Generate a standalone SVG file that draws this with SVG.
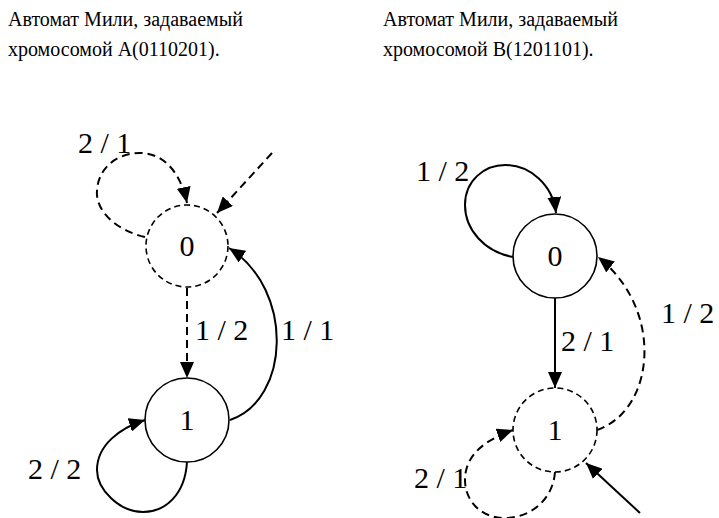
<svg xmlns="http://www.w3.org/2000/svg" width="719" height="518" viewBox="0 0 719 518">
<defs>
<marker id="a" markerUnits="userSpaceOnUse" markerWidth="16" markerHeight="14" viewBox="0 0 16 14" refX="16" refY="7" orient="auto"><path d="M0,0 L16,7 L0,14 Z" fill="#000"/></marker>
</defs>
<g id="titles" font-family="Liberation Serif" font-size="20" fill="#000">
<text x="8" y="26">Автомат Мили, задаваемый</text>
<text x="8" y="56">хромосомой A(0110201).</text>
<text x="383" y="26">Автомат Мили, задаваемый</text>
<text x="383" y="56">хромосомой B(1201101).</text>
</g>
<g id="connectors" fill="none" stroke="#000" stroke-width="2">
<path stroke-dasharray="8 5" d="M187,288 L187,378" marker-end="url(#a)"/>
<path d="M230,420 C290,400 295,290 229,248" marker-end="url(#a)"/>
<path stroke-dasharray="8 5" d="M145,237 C115,230 95,210 97,190 C99,165 120,153 140,153 C162,153 180,170 187,203" marker-end="url(#a)"/>
<path stroke-dasharray="8 5" d="M272,153 L217,213" marker-end="url(#a)"/>
<path d="M187,462 C185,495 165,512 143,512 C120,512 97,490 97,470 C97,445 120,428 145,420" marker-end="url(#a)"/>
<path d="M513,257 C485,252 465,230 465,205 C465,180 485,165 505,165 C530,165 553,185 556,213" marker-end="url(#a)"/>
<path d="M555,298 L555,388" marker-end="url(#a)"/>
<path stroke-dasharray="8 5" d="M597,430 C655,410 665,310 598,257" marker-end="url(#a)"/>
<path stroke-dasharray="8 5" d="M555,472 C553,500 530,518 505,518 C480,518 465,500 465,480 C465,455 485,440 513,430" marker-end="url(#a)"/>
<path d="M640,513 L586,463" marker-end="url(#a)"/>
<g font-family="Liberation Serif" font-size="30" fill="#000" stroke="none">
<text x="195" y="340">1 / 2</text>
<text x="281" y="340">1 / 1</text>
<text x="78" y="153">2 / 1</text>
<text x="28" y="479">2 / 2</text>
<text x="416" y="181">1 / 2</text>
<text x="561" y="351">2 / 1</text>
<text x="661" y="323">1 / 2</text>
<text x="414" y="488">2 / 1</text>
</g>
</g>
<g font-family="Liberation Serif" font-size="30" text-anchor="middle">
<g id="nodeA0"><circle cx="187" cy="246" r="41" fill="#fff" stroke="#000" stroke-width="1.6" stroke-dasharray="6 4"/><text x="187" y="256">0</text></g>
<g id="nodeA1"><circle cx="187" cy="420" r="42" fill="#fff" stroke="#000" stroke-width="1.6"/><text x="187" y="430">1</text></g>
<g id="nodeB0"><circle cx="555" cy="256" r="42" fill="#fff" stroke="#000" stroke-width="1.6"/><text x="555" y="266">0</text></g>
<g id="nodeB1"><circle cx="555" cy="430" r="42" fill="#fff" stroke="#000" stroke-width="1.6" stroke-dasharray="6 4"/><text x="555" y="440">1</text></g>
</g>
</svg>
